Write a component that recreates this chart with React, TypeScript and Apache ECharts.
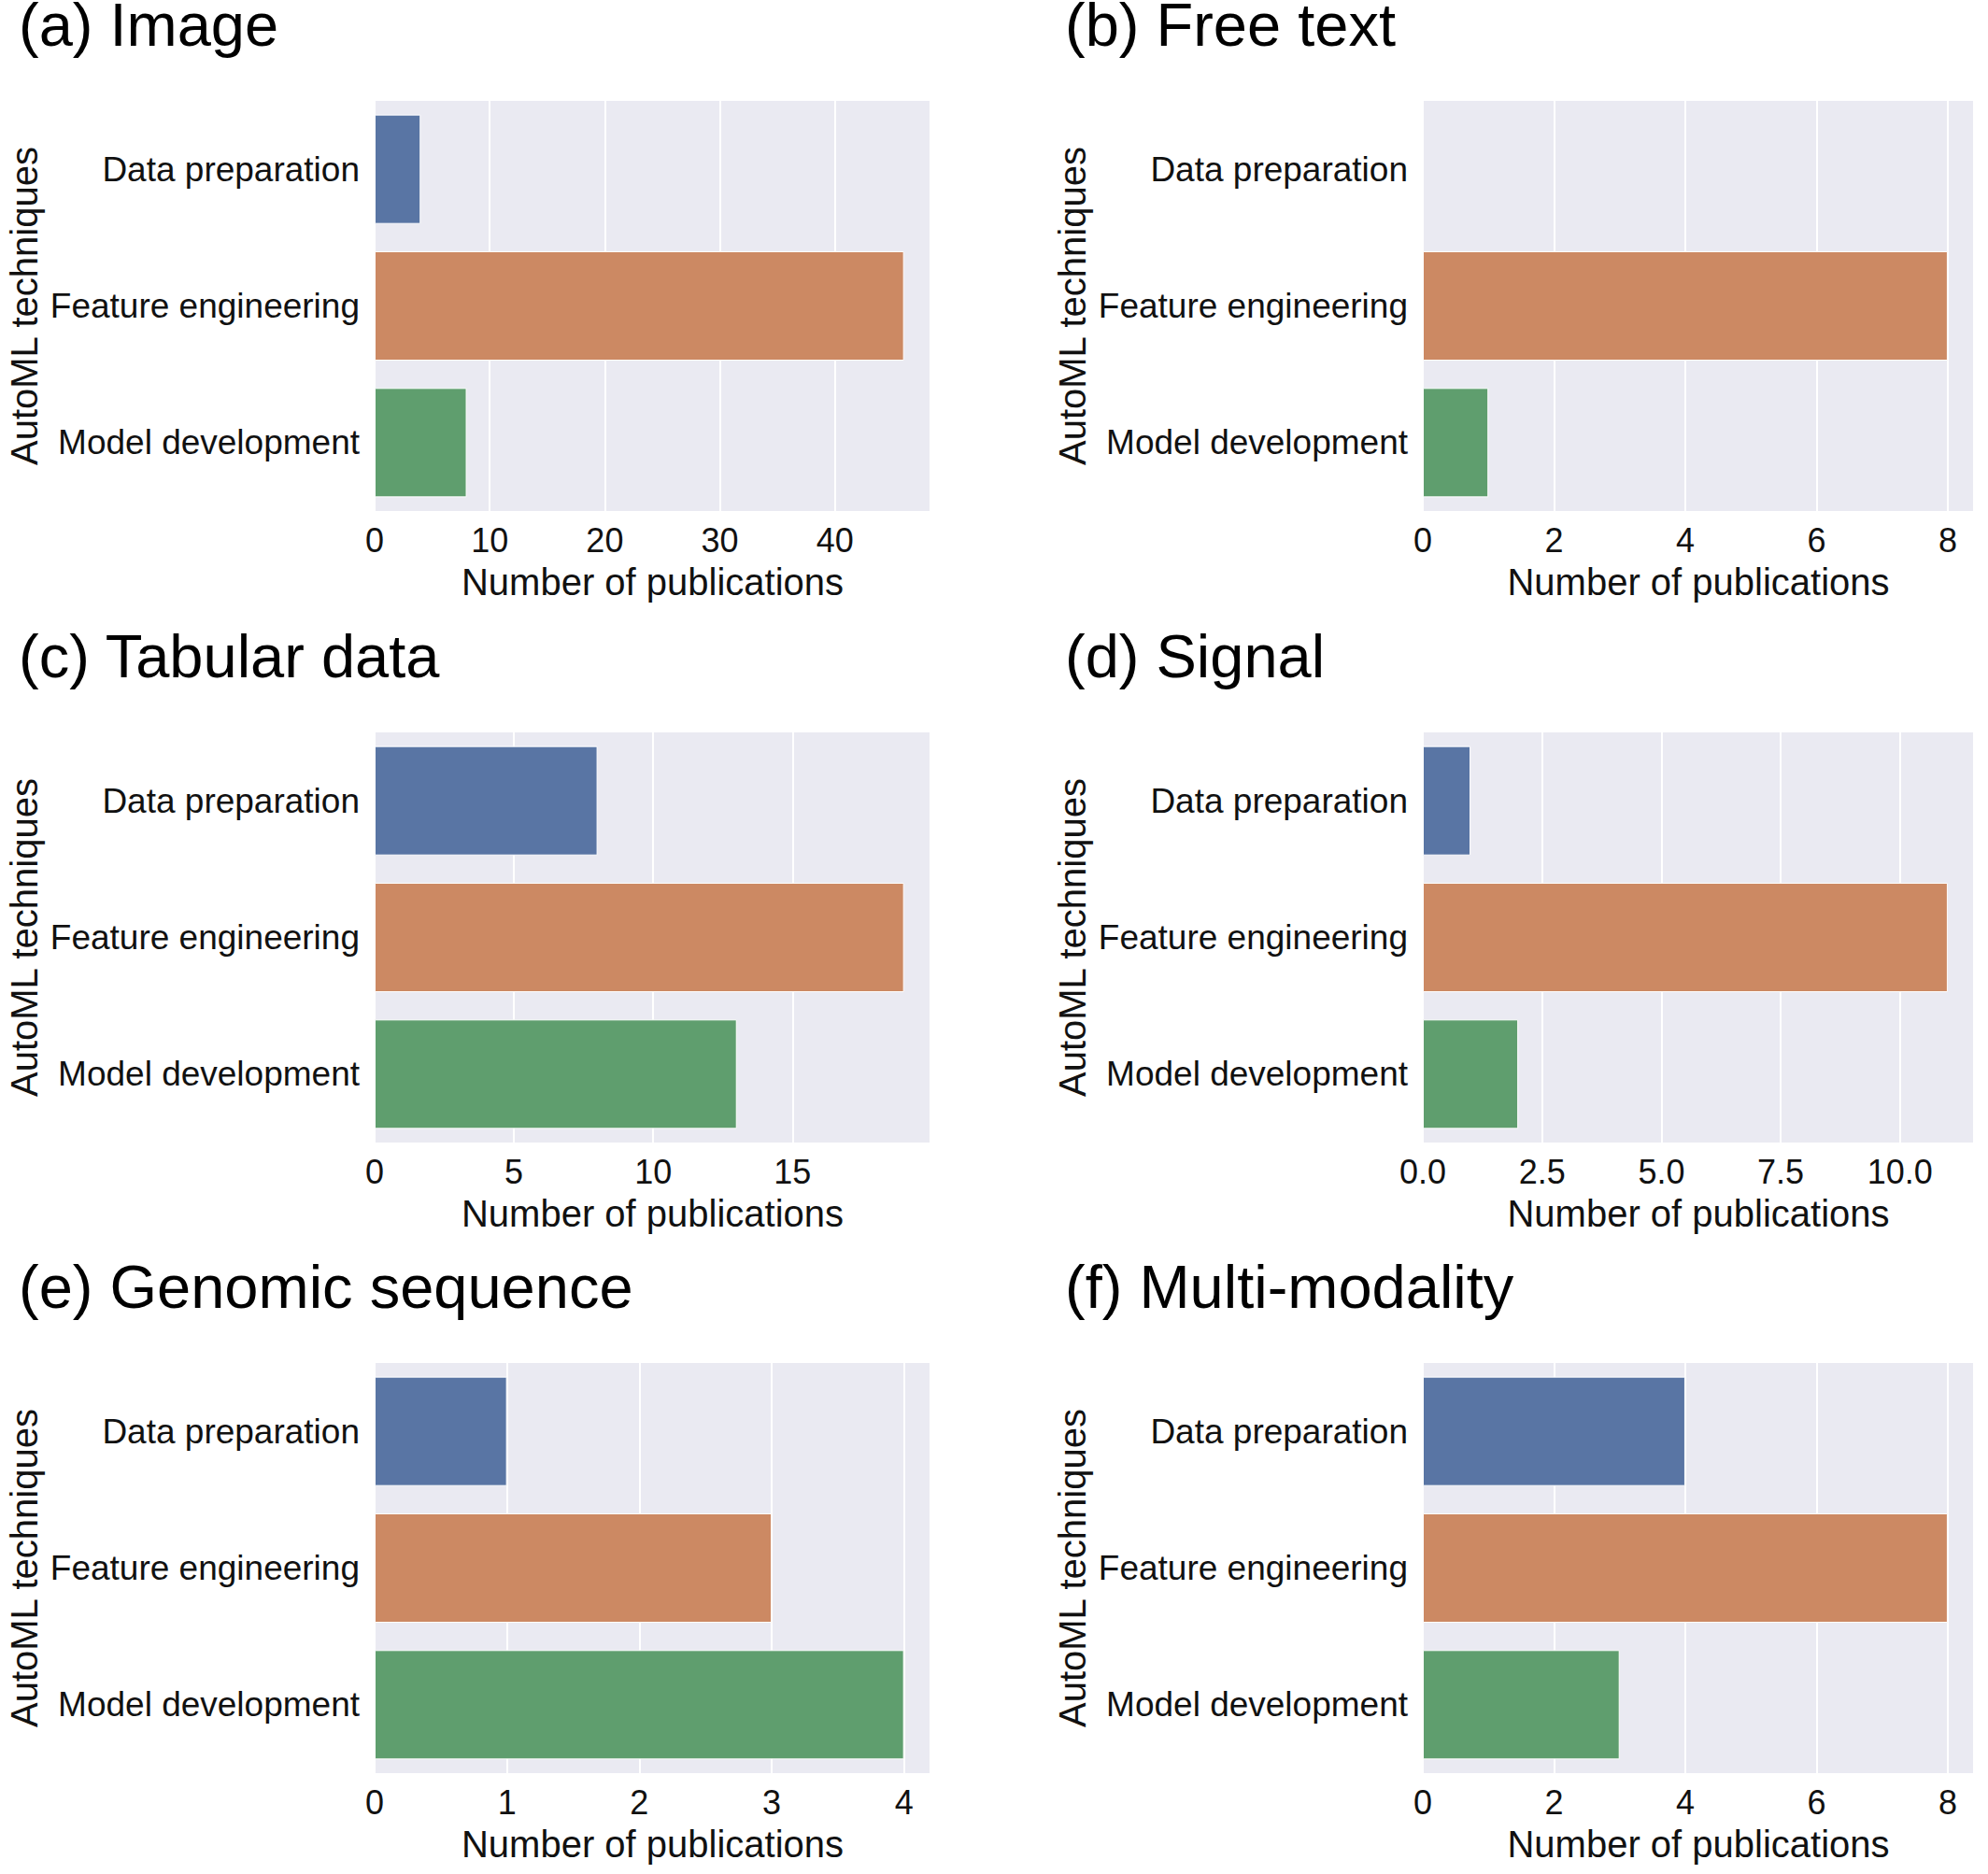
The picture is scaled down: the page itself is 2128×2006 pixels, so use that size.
import React, { useEffect, useRef } from "react";
import * as echarts from "echarts";

const categories = ["Data preparation", "Feature engineering", "Model development"];
const panelTitles = [
  "(a) Image",
  "(b) Free text",
  "(c) Tabular data",
  "(d) Signal",
  "(e) Genomic sequence",
  "(f) Multi-modality",
];
const imageValues = [4, 46, 8];
const freeTextValues = [0, 8, 1];
const tabularValues = [8, 19, 13];
const signalValues = [1, 11, 2];
const genomicValues = [1, 3, 4];
const multiModalityValues = [4, 8, 3];
const panelValues = [imageValues, freeTextValues, tabularValues, signalValues, genomicValues, multiModalityValues];
const tickIntervals = [10, 2, 5, 2.5, 1, 2];
const tickDecimals = [0, 0, 0, 1, 0, 0];
const barColors = ["#5975A4", "#CC8963", "#5F9E6E"];
const xAxisTitle = "Number of publications";
const yAxisTitle = "AutoML techniques";

const FONT = "'Liberation Sans', Arial, Helvetica, sans-serif";
const colLeft = [401, 1523];
const colWidth = [595, 590];
const rowTop = [108, 784, 1459];
const plotH = 439;
const titleX = [20, 1140];
const titleY = [0, 676, 1351];

export default function App() {
  const ref = useRef<HTMLDivElement>(null);
  useEffect(() => {
    if (!ref.current) return;
    const chart = echarts.init(ref.current, undefined, { renderer: "svg" });
    const grids: any[] = [];
    const xAxes: any[] = [];
    const yAxes: any[] = [];
    const series: any[] = [];
    const graphics: any[] = [];
    panelValues.forEach((vals, i) => {
      const col = i % 2;
      const row = Math.floor(i / 2);
      grids.push({
        left: colLeft[col],
        top: rowTop[row],
        width: colWidth[col],
        height: plotH,
        show: true,
        backgroundColor: "#EAEAF2",
        borderWidth: 0,
        containLabel: false,
      });
      const maxV = Math.max(...vals) * 1.05;
      xAxes.push({
        type: "value",
        gridIndex: i,
        min: 0,
        max: maxV,
        interval: tickIntervals[i],
        axisLine: { show: false },
        axisTick: { show: false },
        splitLine: { show: true, lineStyle: { color: "#FFFFFF", width: 2 } },
        axisLabel: {
          show: true,
          showMaxLabel: false,
          margin: 13,
          fontSize: 36,
          color: "#111",
          fontFamily: FONT,
          formatter: (v: number) => v.toFixed(tickDecimals[i]),
        },
        name: xAxisTitle,
        nameLocation: "middle",
        nameGap: 56,
        nameTextStyle: { fontSize: 40, color: "#111", fontFamily: FONT },
      });
      yAxes.push({
        type: "category",
        gridIndex: i,
        data: categories,
        inverse: true,
        axisLine: { show: false },
        axisTick: { show: false },
        splitLine: { show: false },
        axisLabel: { margin: 16, fontSize: 37, color: "#111", fontFamily: FONT },
        name: yAxisTitle,
        nameLocation: "middle",
        nameGap: 355,
        nameTextStyle: { fontSize: 40, color: "#111", fontFamily: FONT },
      });
      series.push({
        type: "bar",
        xAxisIndex: i,
        yAxisIndex: i,
        data: vals,
        barCategoryGap: "20%",
        itemStyle: {
          color: (p: any) => barColors[p.dataIndex],
          borderColor: "#FFFFFF",
          borderWidth: 1,
        },
      });
      graphics.push({
        type: "text",
        x: titleX[col],
        y: titleY[row],
        style: {
          text: panelTitles[i],
          fontSize: 65,
          lineHeight: 52,
          fontFamily: FONT,
          fill: "#000",
          verticalAlign: "top",
          align: "left",
        },
      });
    });
    chart.setOption({
      animation: false,
      backgroundColor: "#FFFFFF",
      grid: grids,
      xAxis: xAxes,
      yAxis: yAxes,
      series,
      graphic: graphics,
    });
    return () => chart.dispose();
  }, []);
  return (
    <div
      ref={ref}
      style={{ position: "absolute", left: 0, top: 0, width: 2128, height: 2006 }}
    />
  );
}
